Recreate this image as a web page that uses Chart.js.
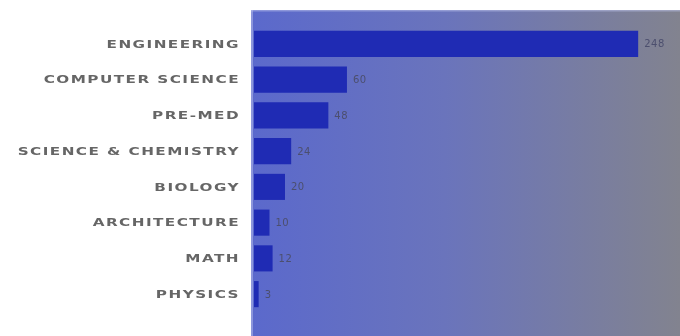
<!DOCTYPE html>
<html>
<head>
<meta charset="utf-8">
<script src="https://cdn.jsdelivr.net/npm/chart.js@4"></script>
<style>
  html, body { margin: 0; padding: 0; background: #ffffff; }
  #wrap { width: 680px; height: 336px; position: relative; }
</style>
</head>
<body>
<div id="wrap"><canvas id="chart" width="680" height="336"></canvas></div>
<script>
// Majors and number of students in each
const majors = [
  'ENGINEERING',
  'COMPUTER SCIENCE',
  'PRE-MED',
  'SCIENCE & CHEMISTRY',
  'BIOLOGY',
  'ARCHITECTURE',
  'MATH',
  'PHYSICS'
];
const students = [248, 60, 48, 24, 20, 10, 12, 3];

// Shaded panel behind the bars, plus category names and value labels
const panelAndLabels = {
  id: 'panelAndLabels',
  beforeDraw(chart) {
    const { ctx, chartArea } = chart;
    const left = chartArea.left - 3;
    const top = 10;
    const right = chart.width;
    const bottom = chart.height;
    const g = ctx.createLinearGradient(left, 0, right, 0);
    g.addColorStop(0, '#5b69cc');
    g.addColorStop(0.45, '#6a74bc');
    g.addColorStop(1, '#82838f');
    ctx.save();
    ctx.fillStyle = g;
    ctx.fillRect(left, top, right - left, bottom - top);
    // soft lighter edge along the top and left of the panel
    ctx.fillStyle = 'rgba(190,195,235,0.5)';
    ctx.fillRect(left, top, right - left, 1.5);
    ctx.fillRect(left, top, 2, bottom - top);
    ctx.restore();
  },
  afterDatasetsDraw(chart) {
    const { ctx } = chart;
    const yScale = chart.scales.y;
    const meta = chart.getDatasetMeta(0);
    // category names, wide lettering, right-aligned left of the panel
    const stretch = 1.45;
    ctx.save();
    ctx.textBaseline = 'middle';
    ctx.textAlign = 'right';
    ctx.font = 'bold 10.5px "DejaVu Sans", sans-serif';
    ctx.fillStyle = '#666666';
    if ('letterSpacing' in ctx) ctx.letterSpacing = '1px';
    ctx.scale(stretch, 1);
    majors.forEach((name, i) => {
      const y = yScale.getPixelForValue(i);
      ctx.fillText(name, 240 / stretch, y + 1);
    });
    ctx.restore();

    // value labels at the end of each bar
    ctx.save();
    ctx.textBaseline = 'middle';
    ctx.font = '10px "DejaVu Sans", sans-serif';
    ctx.fillStyle = '#4c4f6e';
    ctx.textAlign = 'left';
    if ('letterSpacing' in ctx) ctx.letterSpacing = '0.5px';
    meta.data.forEach((bar, i) => {
      ctx.fillText(String(students[i]), bar.x + 6, bar.y + 1);
    });
    ctx.restore();
  }
};

new Chart(document.getElementById('chart'), {
  type: 'bar',
  data: {
    labels: majors,
    datasets: [{
      data: students,
      backgroundColor: '#1f2bb4',
      borderWidth: 0,
      categoryPercentage: 1,
      barPercentage: 0.73
    }]
  },
  options: {
    indexAxis: 'y',
    responsive: false,
    animation: false,
    events: [],
    layout: { padding: { left: 254, right: 0, top: 26, bottom: 24 } },
    plugins: {
      legend: { display: false },
      tooltip: { enabled: false }
    },
    scales: {
      x: {
        min: 0,
        max: 275,
        display: false,
        grid: { display: false }
      },
      y: {
        display: false,
        grid: { display: false }
      }
    }
  },
  plugins: [panelAndLabels]
});
</script>
</body>
</html>
